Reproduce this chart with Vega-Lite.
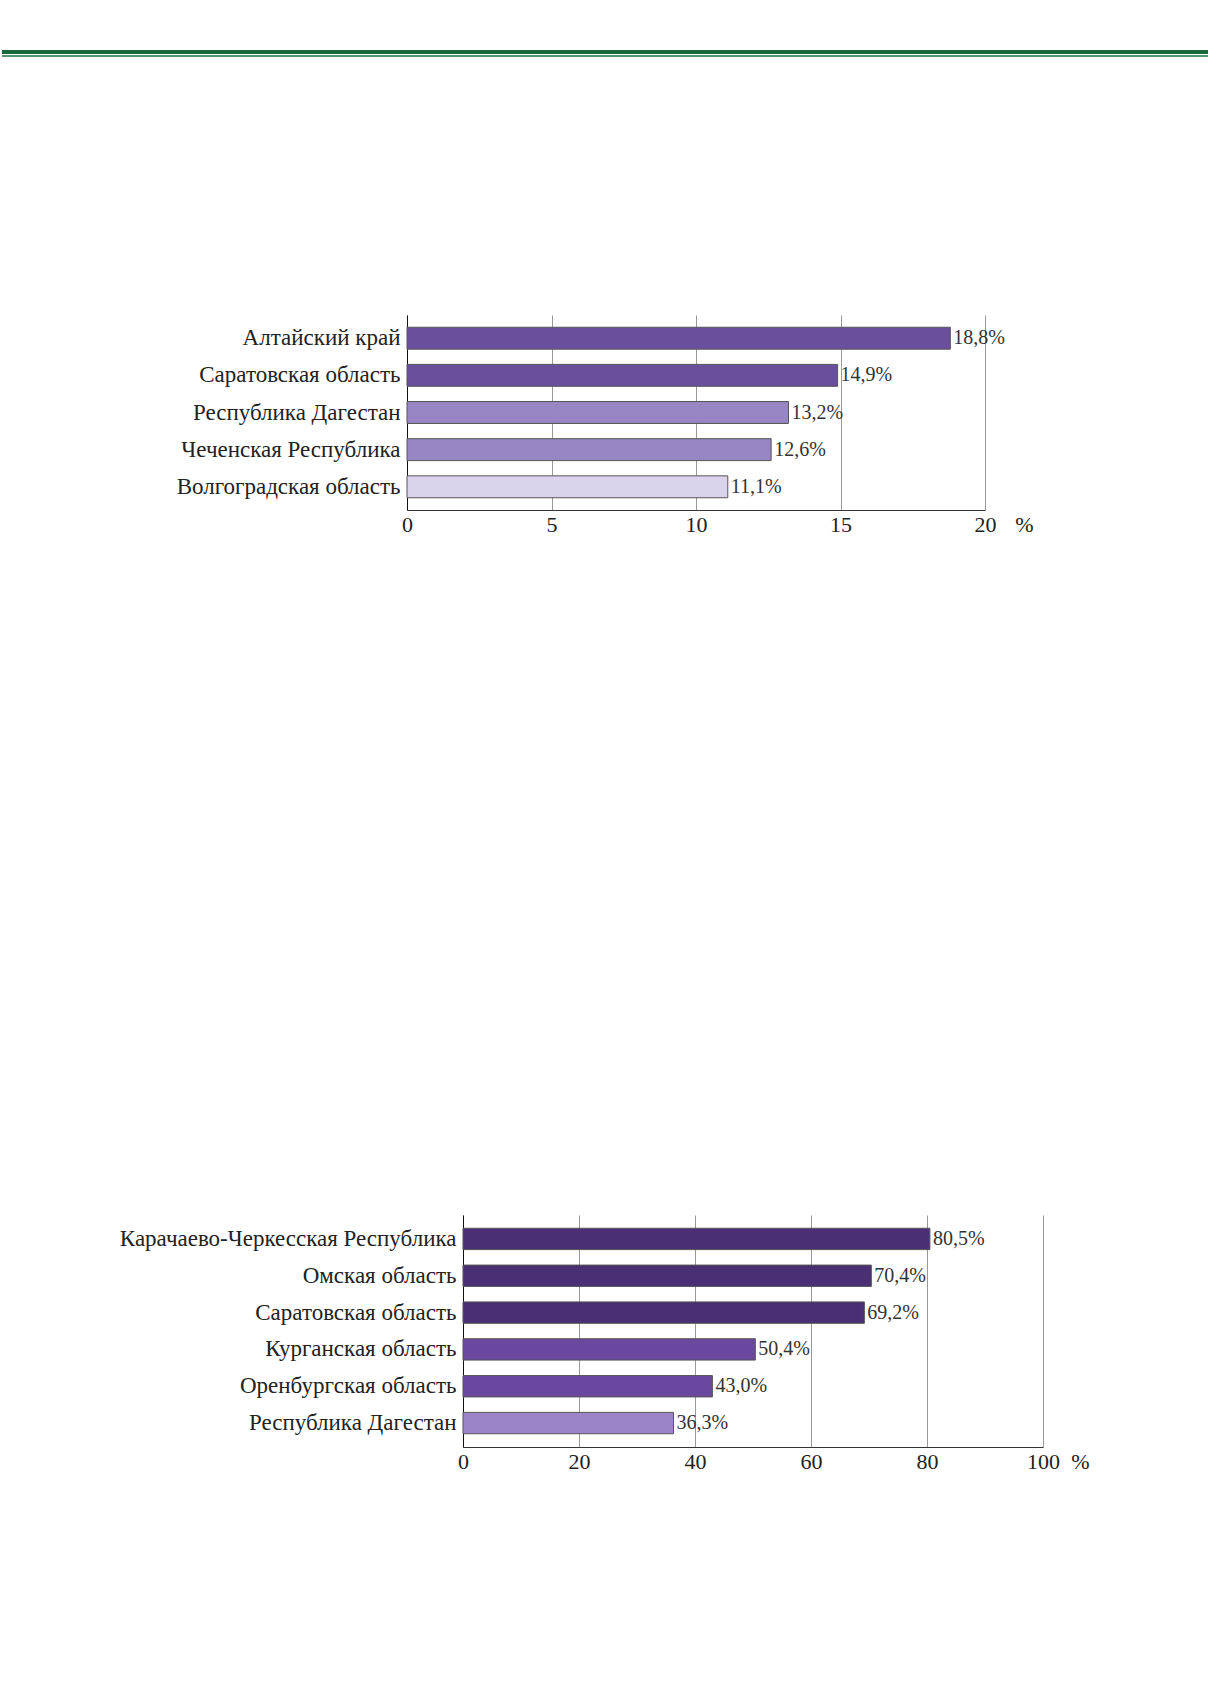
{
  "$schema": "https://vega.github.io/schema/vega-lite/v6.json",
  "padding": {"left": 0, "top": 50, "right": 0, "bottom": 20},
  "spacing": 0,
  "datasets": {
    "rules": [
      {"line": "thick", "start": 0, "end": 1},
      {"line": "thin", "start": 0, "end": 1}
    ],
    "top": [
      {"region": "Алтайский край", "value": 18.8, "label": "18,8%", "tier": "A"},
      {"region": "Саратовская область", "value": 14.9, "label": "14,9%", "tier": "A"},
      {"region": "Республика Дагестан", "value": 13.2, "label": "13,2%", "tier": "B"},
      {"region": "Чеченская Республика", "value": 12.6, "label": "12,6%", "tier": "B"},
      {"region": "Волгоградская область", "value": 11.1, "label": "11,1%", "tier": "C"}
    ],
    "bottom": [
      {"region": "Карачаево-Черкесская Республика", "value": 80.5, "label": "80,5%", "tier": "A"},
      {"region": "Омская область", "value": 70.4, "label": "70,4%", "tier": "A"},
      {"region": "Саратовская область", "value": 69.2, "label": "69,2%", "tier": "A"},
      {"region": "Курганская область", "value": 50.4, "label": "50,4%", "tier": "B"},
      {"region": "Оренбургская область", "value": 43.0, "label": "43,0%", "tier": "B"},
      {"region": "Республика Дагестан", "value": 36.3, "label": "36,3%", "tier": "C"}
    ],
    "spacer": []
  },
  "vconcat": [
    {
      "width": 801,
      "height": 263,
      "data": {"name": "rules"},
      "mark": {"type": "rule"},
      "encoding": {
        "x": {"field": "start", "type": "quantitative", "scale": {"domain": [0, 1], "range": [-405, 801]}, "axis": null},
        "x2": {"field": "end"},
        "y": {"field": "line", "type": "nominal", "scale": {"type": "point", "domain": ["thick", "thin"], "padding": 0, "range": [0, 4]}, "axis": null},
        "strokeWidth": {"field": "line", "type": "nominal", "scale": {"domain": ["thick", "thin"], "range": [4, 1.5]}, "legend": null},
        "color": {"field": "line", "type": "nominal", "scale": {"domain": ["thick", "thin"], "range": ["#17693a", "#1f6f42"]}, "legend": null}
      }
    },
    {
      "width": 578,
      "height": 195,
      "data": {"name": "top"},
      "encoding": {
        "y": {
          "field": "region", "type": "nominal", "sort": null,
          "scale": {"paddingInner": 0.41, "paddingOuter": 0.33},
          "axis": {"title": null, "ticks": false, "domainColor": "#111", "labelFont": "Liberation Serif", "labelFontSize": 23, "labelColor": "#222", "labelPadding": 7, "labelLimit": 600}
        },
        "x": {
          "field": "value", "type": "quantitative",
          "scale": {"domain": [0, 20]},
          "axis": {"values": [0, 5, 10, 15, 20], "grid": true, "gridColor": "#999", "gridWidth": 1, "ticks": false, "domainColor": "#333", "labelFont": "Liberation Serif", "labelFontSize": 22, "labelColor": "#222", "labelPadding": 4, "labelFlush": false, "labelOverlap": false,
            "title": "%", "titleX": 617, "titleY": 4, "titleBaseline": "top", "titleAlign": "center", "titleFont": "Liberation Serif", "titleFontSize": 22, "titleFontWeight": "normal", "titleColor": "#222"}
        }
      },
      "layer": [
        {
          "mark": {"type": "bar", "stroke": "#555", "strokeWidth": 1},
          "encoding": {
            "color": {"field": "tier", "type": "nominal", "scale": {"domain": ["A", "B", "C"], "range": ["#6b4f9f", "#9786c3", "#dbd3eb"]}, "legend": null}
          }
        },
        {
          "mark": {"type": "text", "align": "left", "baseline": "middle", "dx": 3, "font": "Liberation Serif", "fontSize": 20, "color": "#333"},
          "encoding": {"text": {"field": "label"}}
        }
      ]
    },
    {
      "width": 1,
      "height": 680,
      "data": {"name": "spacer"},
      "mark": {"type": "point"},
      "encoding": {}
    },
    {
      "width": 636,
      "height": 232,
      "data": {"name": "bottom"},
      "encoding": {
        "y": {
          "field": "region", "type": "nominal", "sort": null,
          "scale": {"paddingInner": 0.42, "paddingOuter": 0.36},
          "axis": {"title": null, "ticks": false, "offset": -56, "domainColor": "#111", "labelFont": "Liberation Serif", "labelFontSize": 23, "labelColor": "#222", "labelPadding": 7, "labelLimit": 600}
        },
        "x": {
          "field": "value", "type": "quantitative",
          "scale": {"domain": [0, 100], "range": [56, 636]},
          "axis": {"values": [0, 20, 40, 60, 80, 100], "grid": true, "gridColor": "#999", "gridWidth": 1, "ticks": false, "domainColor": "#333", "labelFont": "Liberation Serif", "labelFontSize": 22, "labelColor": "#222", "labelPadding": 4, "labelFlush": false, "labelOverlap": false,
            "title": "%", "titleX": 673, "titleY": 4, "titleBaseline": "top", "titleAlign": "center", "titleFont": "Liberation Serif", "titleFontSize": 22, "titleFontWeight": "normal", "titleColor": "#222"}
        }
      },
      "layer": [
        {
          "mark": {"type": "bar", "stroke": "#555", "strokeWidth": 1},
          "encoding": {
            "color": {"field": "tier", "type": "nominal", "scale": {"domain": ["A", "B", "C"], "range": ["#4a2f74", "#6a48a0", "#9b84c8"]}, "legend": null}
          }
        },
        {
          "mark": {"type": "text", "align": "left", "baseline": "middle", "dx": 3, "font": "Liberation Serif", "fontSize": 20, "color": "#333"},
          "encoding": {"text": {"field": "label"}}
        }
      ]
    }
  ],
  "resolve": {"scale": {"x": "independent", "y": "independent", "color": "independent", "strokeWidth": "independent"}},
  "config": {
    "view": {"stroke": null},
    "font": "Liberation Serif"
  }
}
